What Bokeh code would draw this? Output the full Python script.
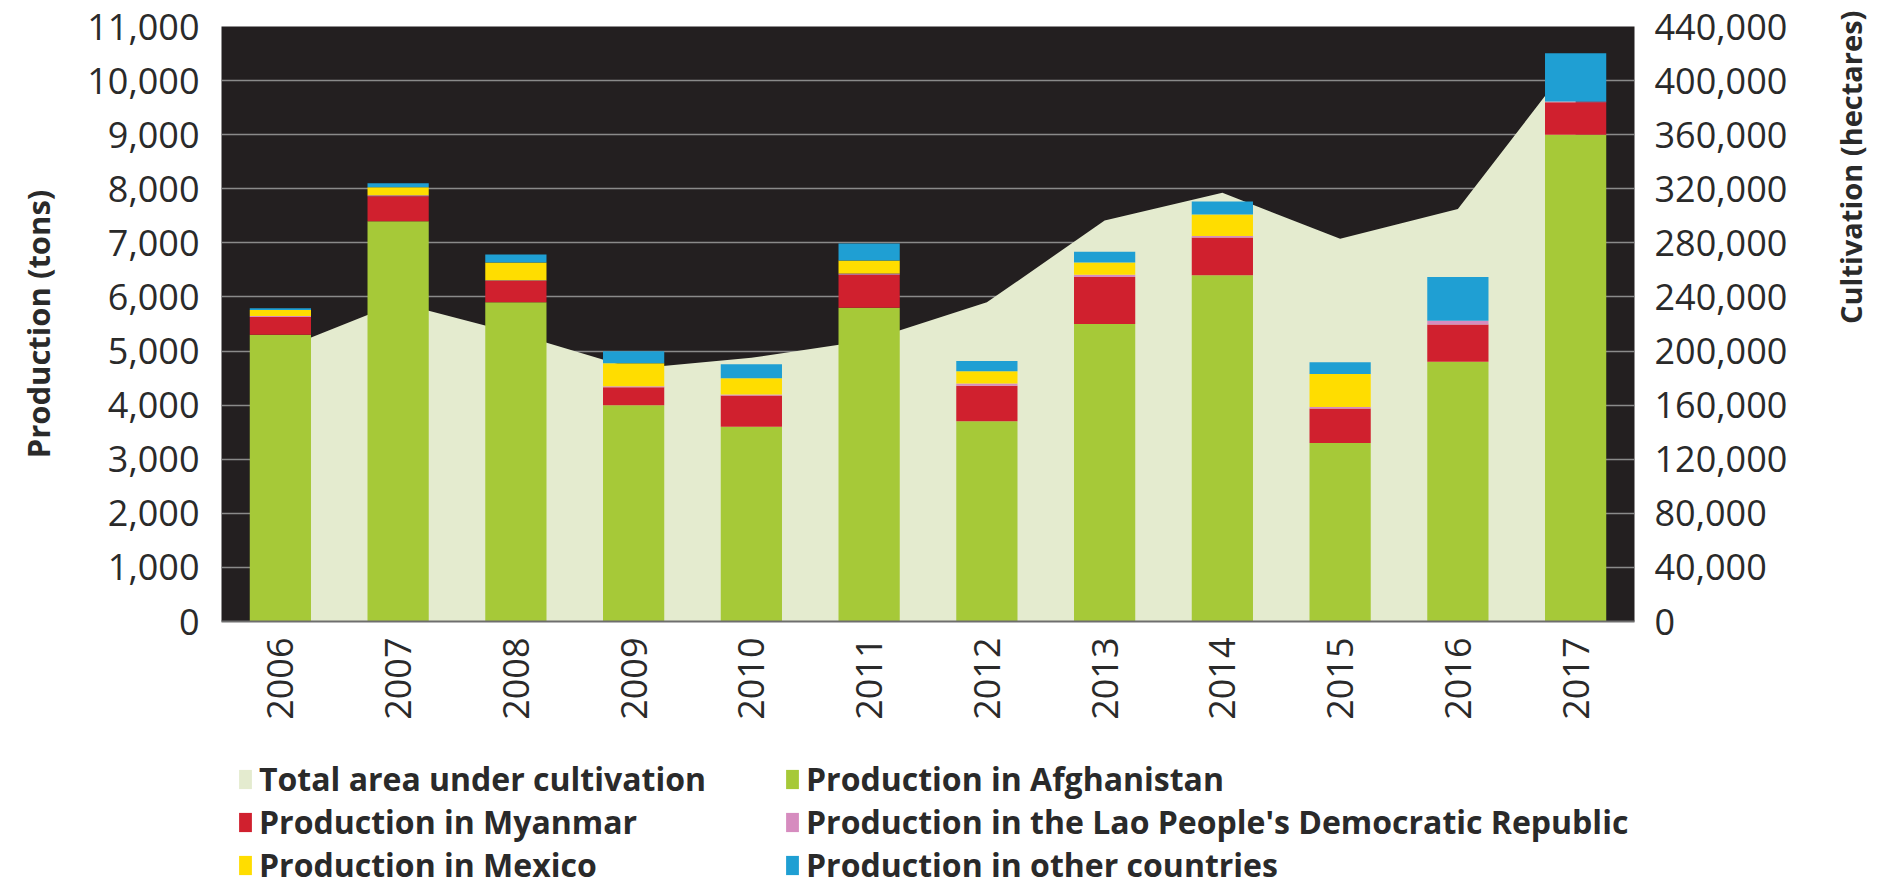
from math import pi
from bokeh.plotting import figure
from bokeh.layouts import column
from bokeh.models import (ColumnDataSource, FactorRange, Range1d, LinearAxis, FixedTicker,
                          NumeralTickFormatter, Legend, LegendItem)
from bokeh.embed import file_html
from bokeh.resources import INLINE

years = ["2006", "2007", "2008", "2009", "2010", "2011",
         "2012", "2013", "2014", "2015", "2016", "2017"]
afghanistan = [5300, 7400, 5900, 4000, 3600, 5800, 3700, 5500, 6400, 3300, 4800, 9000]
myanmar = [330, 460, 400, 330, 580, 610, 660, 870, 700, 640, 690, 600]
lao = [20, 20, 10, 20, 18, 25, 40, 40, 25, 25, 70, 15]
mexico = [110, 150, 325, 425, 300, 240, 225, 225, 400, 610, 0, 0]
other = [30, 70, 150, 220, 260, 315, 190, 200, 240, 220, 810, 890]
cultivation = [201000, 235700, 213000, 187000, 195000, 208000,
               236000, 296500, 317000, 283000, 305000, 418000]

left_ticks = list(range(0, 11001, 1000))
right_ticks = list(range(0, 440001, 40000))

series_keys = ["afghanistan", "myanmar", "lao", "mexico", "other"]
series_labels = ["Production in Afghanistan", "Production in Myanmar",
                 "Production in the Lao People's Democratic Republic",
                 "Production in Mexico", "Production in other countries"]
area_label = "Total area under cultivation"
series_colors = ["#a6c938", "#d0202e", "#d68cbf", "#ffdd00", "#1f9fd3"]
area_color = "#e4ebcf"
bg_color = "#231f20"
text_color = "#2a2a2a"
FONT = "Open Sans"

src = ColumnDataSource(dict(year=years, afghanistan=afghanistan, myanmar=myanmar, lao=lao,
                            mexico=mexico, other=other, cultivation=cultivation))

p = figure(x_range=FactorRange(*years), y_range=Range1d(0, 11000),
           width=1892, height=736, output_backend="svg", toolbar_location=None,
           min_border_left=221, min_border_right=255, min_border_top=26, min_border_bottom=115,
           background_fill_color=bg_color, border_fill_color="white", outline_line_color=None)
p.extra_y_ranges = {"area": Range1d(0, 440000)}

area_r = p.varea(x="year", y1=0, y2="cultivation", source=src, y_range_name="area",
                 fill_color=area_color)
bars = p.vbar_stack(series_keys, x="year", width=0.52, source=src,
                    fill_color=series_colors, line_color=None)

ya = p.yaxis[0]
ya.ticker = FixedTicker(ticks=left_ticks)
ya.formatter = NumeralTickFormatter(format="0,0")
ya.axis_label = "Production (tons)"

raxis = LinearAxis(y_range_name="area", ticker=FixedTicker(ticks=right_ticks),
                   formatter=NumeralTickFormatter(format="0,0"),
                   axis_label="Cultivation (hectares)")
p.add_layout(raxis, "right")
try:
    raxis.axis_label_orientation = pi / 2
except Exception:
    pass

for ax in [ya, raxis]:
    ax.major_label_text_font = FONT
    ax.major_label_text_font_size = "36px"
    ax.major_label_text_color = text_color
    ax.axis_label_text_font = FONT
    ax.axis_label_text_font_style = "bold"
    ax.axis_label_text_color = text_color
    ax.axis_line_color = None
    ax.major_tick_line_color = None
    ax.minor_tick_line_color = None
ya.axis_label_text_font_size = "31px"
raxis.axis_label_text_font_size = "29px"
ya.major_label_standoff = 16
ya.axis_label_standoff = 25
raxis.major_label_standoff = 14
raxis.axis_label_standoff = 60

xa = p.xaxis[0]
xa.major_label_orientation = pi / 2
xa.major_label_text_font = FONT
xa.major_label_text_font_size = "36px"
xa.major_label_text_color = text_color
xa.axis_line_color = "#6e6e6e"
xa.axis_line_width = 2
xa.major_tick_line_color = None
xa.major_label_standoff = 10

p.xgrid.grid_line_color = None
p.ygrid.ticker = FixedTicker(ticks=left_ticks)
p.ygrid.grid_line_color = "#8a8a8a"
p.ygrid.grid_line_width = 1.5

# legend in its own strip below the chart (its frame is aligned with the chart's frame)
lg = figure(width=1892, height=150, output_backend="svg", toolbar_location=None,
            x_range=Range1d(0, 1), y_range=Range1d(0, 1), min_border=0,
            outline_line_color=None, background_fill_color="white", border_fill_color="white")
lg.axis.visible = False
lg.grid.visible = False
dummy = ColumnDataSource(dict(x=[-10, -9], y=[-10, -10]))
lg_area = lg.varea(x="x", y1="y", y2="y", source=dummy, fill_color=area_color)
lg_bars = [lg.vbar(x="x", top="y", width=0.5, source=dummy, fill_color=c, line_color=None)
           for c in series_colors]

items = [
    LegendItem(label=area_label, renderers=[lg_area]),
    LegendItem(label=series_labels[1], renderers=[lg_bars[1]]),
    LegendItem(label=series_labels[3], renderers=[lg_bars[3]]),
    LegendItem(label=series_labels[0], renderers=[lg_bars[0]]),
    LegendItem(label=series_labels[2], renderers=[lg_bars[2]]),
    LegendItem(label=series_labels[4], renderers=[lg_bars[4]]),
]
legend = Legend(items=items, orientation="vertical", ncols=2, location=(16, 0),
                label_text_font=FONT, label_text_font_style="bold",
                label_text_font_size="32px", label_text_color=text_color,
                glyph_width=16, glyph_height=24, label_standoff=6, spacing=0,
                label_width=525, padding=0, margin=0,
                background_fill_alpha=0, border_line_color=None)
lg.add_layout(legend, "center")

open("out.html", "w").write(file_html(column(p, lg), INLINE))
